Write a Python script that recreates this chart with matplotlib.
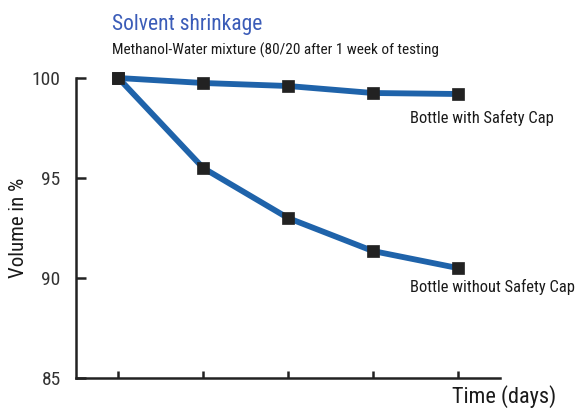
import matplotlib.pyplot as plt
from matplotlib import font_manager

days = [1, 2, 3, 4, 5]
with_cap = [100, 99.75, 99.6, 99.25, 99.2]
without_cap = [100, 95.5, 93.0, 91.35, 90.5]
yticks = [85, 90, 95, 100]

names = {f.name for f in font_manager.fontManager.ttflist}
font = 'Roboto Condensed' if 'Roboto Condensed' in names else 'DejaVu Sans'
plt.rcParams['font.family'] = [font, 'DejaVu Sans']

W, H = 584, 408
line_color = '#1f63aa'
ink = '#1a1a1a'

fig = plt.figure(figsize=(W / 100, H / 100), dpi=100)
ax = fig.add_axes([76 / W, 1 - 378 / H, 424 / W, 300 / H])

for vals in (with_cap, without_cap):
    ax.plot(days, vals, color=line_color, lw=4.2, marker='s', ms=8,
            mfc='#222222', mec='#222222', mew=0.5, clip_on=False, zorder=3)

ax.set_xlim(0.5, 5.5)
ax.set_ylim(85, 100)
ax.set_yticks(yticks)
ax.set_xticks(days)
ax.set_xticklabels([])
ax.tick_params(axis='x', direction='in', length=5, width=1.8, color='#222222')
ax.tick_params(axis='y', direction='in', length=7, width=1.8, color='#222222',
               labelsize=14, labelcolor='#333333', pad=11)
for s in ('top', 'right'):
    ax.spines[s].set_visible(False)
for s in ('left', 'bottom'):
    ax.spines[s].set_linewidth(1.8)
    ax.spines[s].set_color('#222222')

ax.set_ylabel('Volume in %', fontsize=15, color=ink)
ax.yaxis.set_label_coords((28 - 76) / 424, 0.5)


def label(x, y, s, color=ink, **kw):
    fig.text(x / W, 1 - y / H, s, va='baseline', color=color, **kw)


label(112, 30, 'Solvent shrinkage', fontsize=15.5, color='#3b5cb8')
label(112, 55, 'Methanol-Water mixture (80/20 after 1 week of testing', fontsize=11)
label(410, 123, 'Bottle with Safety Cap', fontsize=11.9)
label(410, 292, 'Bottle without Safety Cap', fontsize=11.9)
label(452, 403, 'Time (days)', fontsize=16)

fig.savefig('out.png', dpi=100)
